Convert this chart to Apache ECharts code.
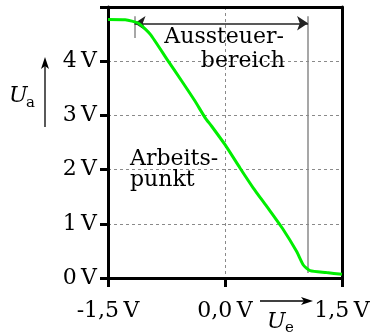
<!DOCTYPE html>
<html>
<head>
<meta charset="utf-8">
<script src="https://cdn.jsdelivr.net/npm/echarts@6/dist/echarts.min.js"></script>
<style>
html,body{margin:0;padding:0;background:#fff;}
#c{width:377px;height:332px;}
</style>
</head>
<body>
<div id="c"></div>
<script>
// Transfer characteristic: input voltage Ue (V) vs output voltage Ua (V)
const ue = [-1.5, -1.28, -1.11, -0.96, -0.73, -0.555, -0.385, -0.256, -0.171, 0.0, 0.192, 0.363, 0.535, 0.748, 0.919, 1.004, 1.09, 1.30, 1.5];
const ua = [4.77, 4.765, 4.70, 4.50, 4.005, 3.635, 3.265, 2.96, 2.80, 2.46, 2.03, 1.66, 1.32, 0.89, 0.487, 0.24, 0.135, 0.10, 0.068];
// Aussteuerbereich (range markers)
const rangeStart = -1.16;
const rangeEnd = 1.065;
const arrowLevel = 4.70;
const markerTop = 4.83;
const leftMarkerBottom = 4.43;
const rightMarkerBottom = 0.09;
// axis settings
const xMin = -1.5, xMax = 1.5, xStep = 1.5;
const yMin = 0, yMax = 5, yStep = 1;

const FONT = '"DejaVu Serif", serif';
const FS = 22;
const fmt = v => v.toFixed(1).replace('.', ',') + '\u2009V';

const chart = echarts.init(document.getElementById('c'), null, {renderer: 'canvas'});
const gray = '#8a8a8a';
const frameAxis = {
  axisLine: {show: true, onZero: false, lineStyle: {color: '#000', width: 3}},
  axisLabel: {show: false}, splitLine: {show: false}
};
const txt = (text, x, y, align, size, italic) => ({
  type: 'text', x: x, y: y, z: 10,
  style: {text: text, font: (italic ? 'italic ' : '') + (size || FS) + 'px ' + FONT, fill: '#000', align: align, verticalAlign: 'middle'}
});
chart.setOption({
  animation: false,
  backgroundColor: '#fff',
  textStyle: {fontFamily: FONT},
  grid: {left: 108, right: 35, top: 7, bottom: 54},
  xAxis: [{
    type: 'value', min: xMin, max: xMax, interval: xStep, position: 'bottom',
    axisLine: {show: true, onZero: false, lineStyle: {color: '#000', width: 3}},
    axisTick: {show: true, length: 9, lineStyle: {color: '#000', width: 3}},
    axisLabel: {fontFamily: FONT, fontSize: FS, color: '#000', margin: 22, formatter: v => fmt(v), showMinLabel: true, showMaxLabel: true},
    splitLine: {show: true, lineStyle: {color: gray, width: 1, type: [3, 3]}}
  }, Object.assign({type: 'value', min: xMin, max: xMax, interval: xStep, position: 'top', axisTick: {show: false}}, frameAxis)],
  yAxis: [{
    type: 'value', min: yMin, max: yMax, interval: yStep, position: 'left',
    axisLine: {show: true, onZero: false, lineStyle: {color: '#000', width: 3}},
    axisTick: {show: true, length: 8, lineStyle: {color: '#000', width: 3}},
    axisLabel: {fontFamily: FONT, fontSize: FS, color: '#000', margin: 11, padding: [6, 0, 0, 0], formatter: v => v === yMax ? '' : (v + '\u2009V')},
    splitLine: {show: true, lineStyle: {color: gray, width: 1, type: [3, 3]}}
  }, Object.assign({type: 'value', min: yMin, max: yMax, interval: yStep, position: 'right', axisTick: {show: false}}, frameAxis)],
  series: [{
    type: 'line',
    data: ue.map((x, i) => [x, ua[i]]),
    symbol: 'none',
    smooth: 0.2,
    lineStyle: {color: '#00ee00', width: 3},
    z: 5,
    markLine: {
      silent: true,
      symbol: ['none', 'none'],
      label: {show: false},
      emphasis: {disabled: true},
      animation: false,
      data: [
        [{coord: [rangeStart, markerTop], lineStyle: {color: gray, width: 1.5, type: 'solid'}}, {coord: [rangeStart, leftMarkerBottom]}],
        [{coord: [rangeEnd, markerTop], lineStyle: {color: gray, width: 1.5, type: 'solid'}}, {coord: [rangeEnd, rightMarkerBottom]}],
        [{coord: [rangeStart, arrowLevel], symbol: 'arrow', symbolSize: 11, lineStyle: {color: '#222', width: 1.5, type: 'solid'}},
         {coord: [rangeEnd, arrowLevel], symbol: 'arrow', symbolSize: 11}]
      ]
    }
  }],
  graphic: [
    txt('Aussteuer-', 284, 37, 'right'),
    txt('bereich', 285, 61, 'right'),
    txt('Arbeits-', 130, 159, 'left'),
    txt('punkt', 130, 180, 'left'),
    // U_a label and arrow
    txt('U', 9, 96, 'left', FS, true),
    txt('a', 26, 103, 'left', 15),
    {type: 'line', shape: {x1: 45, y1: 127, x2: 45, y2: 64}, style: {stroke: '#000', lineWidth: 1.3}},
    {type: 'polygon', shape: {points: [[45, 57], [41, 69], [45, 66], [49, 69]]}, style: {fill: '#000'}},
    // U_e label and arrow
    txt('U', 267, 322, 'left', FS, true),
    txt('e', 285, 328, 'left', 15),
    {type: 'line', shape: {x1: 260, y1: 301, x2: 306, y2: 301}, style: {stroke: '#000', lineWidth: 1.3}},
    {type: 'polygon', shape: {points: [[313, 301], [301, 297], [304, 301], [301, 305]]}, style: {fill: '#000'}}
  ]
});
</script>
</body>
</html>
